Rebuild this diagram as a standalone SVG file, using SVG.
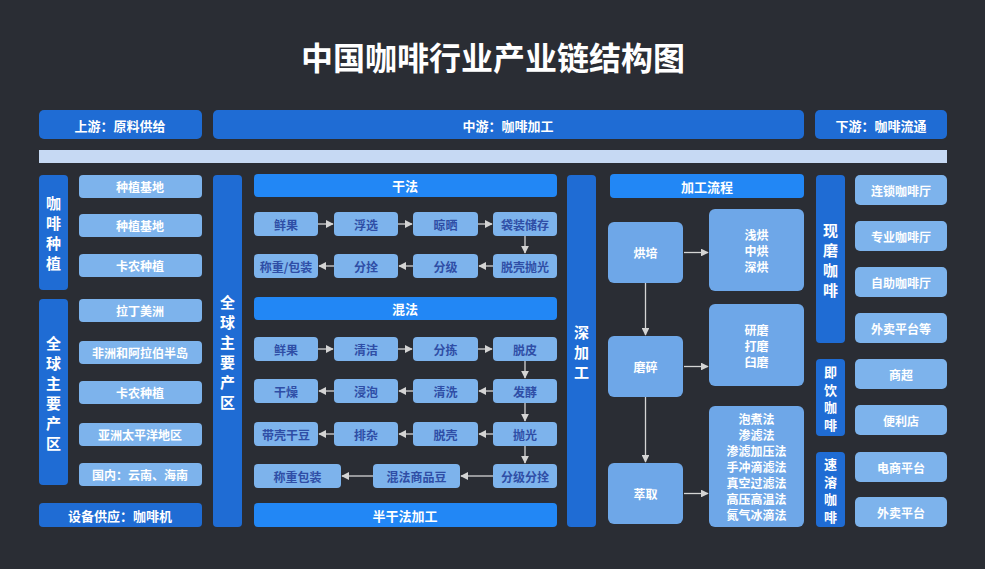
<svg xmlns="http://www.w3.org/2000/svg" width="985" height="569" viewBox="0 0 985 569">
<style>
text{font-family:"Noto Sans CJK SC","Noto Sans",sans-serif;text-anchor:middle;dominant-baseline:central}
.d{fill:#1f6cd4}.h{fill:#2287f5}.l{fill:#7db3ec}.m{fill:#6ea7e8}
.tw{fill:#fff;font-size:12px;font-weight:bold}
.tb{fill:#2f4ea6;font-size:12px;font-weight:bold}
.th{fill:#fff;font-size:13px;font-weight:bold}
.tv{fill:#fff;font-size:15px;font-weight:bold}
.ts{fill:#fff;font-size:13px;font-weight:bold}
.c line{stroke:#d4d4d4;stroke-width:1.3;marker-end:url(#a)}
</style>
<defs><marker id="a" viewBox="0 0 10 10" refX="9" refY="5" markerWidth="6" markerHeight="6" orient="auto"><path d="M0,0L10,5L0,10z" fill="#d4d4d4"/></marker></defs>
<rect width="985" height="569" fill="#2a2d34"/>
<text x="493" y="56" fill="#fff" style="font-size:32px;font-weight:bold">中国咖啡行业产业链结构图</text>
<g id="hdr">
<rect class="d" x="39" y="110" width="163" height="29" rx="5"/><text class="th" x="120" y="125">上游：原料供给</text>
<rect class="d" x="213" y="110" width="591" height="29" rx="5"/><text class="th" x="508" y="125">中游：咖啡加工</text>
<rect class="d" x="815" y="110" width="132" height="29" rx="5"/><text class="th" x="881" y="125">下游：咖啡流通</text>
<rect x="39" y="150" width="908" height="13" fill="#c6d9f3"/>
</g>
<g id="left">
<rect class="d" x="39" y="175" width="29" height="115" rx="4"/><text class="tv" x="53.5" y="232"><tspan x="53.5" dy="-30">咖</tspan><tspan x="53.5" dy="20">啡</tspan><tspan x="53.5" dy="20">种</tspan><tspan x="53.5" dy="20">植</tspan></text>
<rect class="d" x="39" y="299" width="29" height="186" rx="4"/><text class="tv" x="53.5" y="392"><tspan x="53.5" dy="-50">全</tspan><tspan x="53.5" dy="20">球</tspan><tspan x="53.5" dy="20">主</tspan><tspan x="53.5" dy="20">要</tspan><tspan x="53.5" dy="20">产</tspan><tspan x="53.5" dy="20">区</tspan></text>
<rect class="l" x="79" y="175" width="123" height="23" rx="4"/><text class="tw" x="140" y="186.5">种植基地</text>
<rect class="l" x="79" y="214" width="123" height="23" rx="4"/><text class="tw" x="140" y="225.5">种植基地</text>
<rect class="l" x="79" y="254" width="123" height="23" rx="4"/><text class="tw" x="140" y="265.5">卡农种植</text>
<rect class="l" x="79" y="299" width="123" height="23" rx="4"/><text class="tw" x="140" y="310.5">拉丁美洲</text>
<rect class="l" x="79" y="341" width="123" height="23" rx="4"/><text class="tw" x="140" y="352.5">非洲和阿拉伯半岛</text>
<rect class="l" x="79" y="381" width="123" height="23" rx="4"/><text class="tw" x="140" y="392.5">卡农种植</text>
<rect class="l" x="79" y="423" width="123" height="23" rx="4"/><text class="tw" x="140" y="434.5">亚洲太平洋地区</text>
<rect class="l" x="79" y="463" width="123" height="23" rx="4"/><text class="tw" x="140" y="474.5">国内：云南、海南</text>
<rect class="d" x="39" y="503" width="163" height="24" rx="4"/><text class="th" x="120" y="515">设备供应：咖啡机</text>
</g>
<g id="mid">
<rect class="d" x="213" y="175" width="29" height="352" rx="4"/><text class="tv" x="227.5" y="351"><tspan x="227.5" dy="-50">全</tspan><tspan x="227.5" dy="20">球</tspan><tspan x="227.5" dy="20">主</tspan><tspan x="227.5" dy="20">要</tspan><tspan x="227.5" dy="20">产</tspan><tspan x="227.5" dy="20">区</tspan></text>
<rect class="h" x="254" y="174" width="303" height="23" rx="4"/><text class="th" x="405" y="185.5">干法</text>
<rect class="l" x="254" y="212" width="64" height="24" rx="4"/><text class="tb" x="286" y="224">鲜果</text>
<rect class="l" x="334" y="212" width="64" height="24" rx="4"/><text class="tb" x="366" y="224">浮选</text>
<rect class="l" x="413" y="212" width="65" height="24" rx="4"/><text class="tb" x="445.5" y="224">晾晒</text>
<rect class="l" x="493" y="212" width="64" height="24" rx="4"/><text class="tb" x="525" y="224">袋装储存</text>
<rect class="l" x="254" y="254" width="64" height="24" rx="4"/><text class="tb" x="286" y="266">称重/包装</text>
<rect class="l" x="334" y="254" width="64" height="24" rx="4"/><text class="tb" x="366" y="266">分拴</text>
<rect class="l" x="413" y="254" width="65" height="24" rx="4"/><text class="tb" x="445.5" y="266">分级</text>
<rect class="l" x="493" y="254" width="64" height="24" rx="4"/><text class="tb" x="525" y="266">脱壳抛光</text>
<rect class="h" x="254" y="297" width="303" height="23" rx="4"/><text class="th" x="405" y="308.5">混法</text>
<rect class="l" x="254" y="337" width="64" height="24" rx="4"/><text class="tb" x="286" y="349">鲜果</text>
<rect class="l" x="334" y="337" width="64" height="24" rx="4"/><text class="tb" x="366" y="349">清洁</text>
<rect class="l" x="413" y="337" width="65" height="24" rx="4"/><text class="tb" x="445.5" y="349">分拣</text>
<rect class="l" x="493" y="337" width="64" height="24" rx="4"/><text class="tb" x="525" y="349">脱皮</text>
<rect class="l" x="254" y="379" width="64" height="24" rx="4"/><text class="tb" x="286" y="391">干燥</text>
<rect class="l" x="334" y="379" width="64" height="24" rx="4"/><text class="tb" x="366" y="391">浸泡</text>
<rect class="l" x="413" y="379" width="65" height="24" rx="4"/><text class="tb" x="445.5" y="391">清洗</text>
<rect class="l" x="493" y="379" width="64" height="24" rx="4"/><text class="tb" x="525" y="391">发酵</text>
<rect class="l" x="254" y="422" width="64" height="24" rx="4"/><text class="tb" x="286" y="434">带壳干豆</text>
<rect class="l" x="334" y="422" width="64" height="24" rx="4"/><text class="tb" x="366" y="434">排杂</text>
<rect class="l" x="413" y="422" width="65" height="24" rx="4"/><text class="tb" x="445.5" y="434">脱壳</text>
<rect class="l" x="493" y="422" width="64" height="24" rx="4"/><text class="tb" x="525" y="434">抛光</text>
<rect class="l" x="254" y="464" width="87" height="24" rx="4"/><text class="tb" x="297.5" y="476">称重包装</text>
<rect class="l" x="373" y="464" width="87" height="24" rx="4"/><text class="tb" x="416.5" y="476">混法商品豆</text>
<rect class="l" x="493" y="464" width="64" height="24" rx="4"/><text class="tb" x="525" y="476">分级分拴</text>
<rect class="h" x="254" y="503" width="303" height="24" rx="4"/><text class="th" x="405" y="515">半干法加工</text>
</g>
<g id="deep">
<rect class="d" x="567" y="175" width="29" height="352" rx="4"/><text class="tv" x="581.5" y="351"><tspan x="581.5" dy="-20">深</tspan><tspan x="581.5" dy="20">加</tspan><tspan x="581.5" dy="20">工</tspan></text>
<rect class="h" x="610" y="174" width="194" height="24" rx="4"/><text class="th" x="707" y="186">加工流程</text>
<rect class="m" x="608" y="222" width="75" height="61" rx="6"/><text class="tw" x="645.5" y="252.5">烘培</text>
<rect class="m" x="608" y="336" width="75" height="61" rx="6"/><text class="tw" x="645.5" y="366.5">磨碎</text>
<rect class="m" x="608" y="463" width="75" height="61" rx="6"/><text class="tw" x="645.5" y="493.5">萃取</text>
<rect class="m" x="709" y="209" width="95" height="82" rx="6"/><text class="tw" x="756.5" y="234"><tspan x="756.5">浅烘</tspan><tspan x="756.5" dy="16">中烘</tspan><tspan x="756.5" dy="16">深烘</tspan></text>
<rect class="m" x="709" y="304" width="95" height="82" rx="6"/><text class="tw" x="756.5" y="329"><tspan x="756.5">研磨</tspan><tspan x="756.5" dy="16">打磨</tspan><tspan x="756.5" dy="16">臼磨</tspan></text>
<rect class="m" x="709" y="406" width="95" height="121" rx="6"/><text class="tw" x="756.5" y="418"><tspan x="756.5">泡煮法</tspan><tspan x="756.5" dy="16">渗滤法</tspan><tspan x="756.5" dy="16">渗滤加压法</tspan><tspan x="756.5" dy="16">手冲滴滤法</tspan><tspan x="756.5" dy="16">真空过滤法</tspan><tspan x="756.5" dy="16">高压高温法</tspan><tspan x="756.5" dy="16">氮气冰滴法</tspan></text>
</g>
<g id="right">
<rect class="d" x="816" y="175" width="29" height="168" rx="4"/><text class="tv" x="830.5" y="259"><tspan x="830.5" dy="-30">现</tspan><tspan x="830.5" dy="20">磨</tspan><tspan x="830.5" dy="20">咖</tspan><tspan x="830.5" dy="20">啡</tspan></text>
<rect class="d" x="816" y="359" width="29" height="77" rx="4"/><text class="ts" x="830.5" y="397.5"><tspan x="830.5" dy="-26.25">即</tspan><tspan x="830.5" dy="17.5">饮</tspan><tspan x="830.5" dy="17.5">咖</tspan><tspan x="830.5" dy="17.5">啡</tspan></text>
<rect class="d" x="816" y="452" width="29" height="75" rx="4"/><text class="ts" x="830.5" y="489.5"><tspan x="830.5" dy="-26.25">速</tspan><tspan x="830.5" dy="17.5">溶</tspan><tspan x="830.5" dy="17.5">咖</tspan><tspan x="830.5" dy="17.5">啡</tspan></text>
<rect class="l" x="855" y="175" width="92" height="30" rx="5"/><text class="tw" x="901" y="190">连锁咖啡厅</text>
<rect class="l" x="855" y="221" width="92" height="30" rx="5"/><text class="tw" x="901" y="236">专业咖啡厅</text>
<rect class="l" x="855" y="267" width="92" height="30" rx="5"/><text class="tw" x="901" y="282">自助咖啡厅</text>
<rect class="l" x="855" y="313" width="92" height="30" rx="5"/><text class="tw" x="901" y="328">外卖平台等</text>
<rect class="l" x="855" y="359" width="92" height="30" rx="5"/><text class="tw" x="901" y="374">商超</text>
<rect class="l" x="855" y="405" width="92" height="30" rx="5"/><text class="tw" x="901" y="420">便利店</text>
<rect class="l" x="855" y="452" width="92" height="30" rx="5"/><text class="tw" x="901" y="467">电商平台</text>
<rect class="l" x="855" y="497" width="92" height="30" rx="5"/><text class="tw" x="901" y="512">外卖平台</text>
</g>
<g class="c" id="connectors">
<line x1="318" y1="224" x2="333" y2="224"/><line x1="398" y1="224" x2="412" y2="224"/><line x1="478" y1="224" x2="492" y2="224"/>
<line x1="525" y1="236" x2="525" y2="253"/>
<line x1="493" y1="266" x2="479" y2="266"/><line x1="413" y1="266" x2="399" y2="266"/><line x1="334" y1="266" x2="319" y2="266"/>
<line x1="318" y1="349" x2="333" y2="349"/><line x1="398" y1="349" x2="412" y2="349"/><line x1="478" y1="349" x2="492" y2="349"/>
<line x1="525" y1="361" x2="525" y2="378"/>
<line x1="493" y1="391" x2="479" y2="391"/><line x1="413" y1="391" x2="399" y2="391"/><line x1="334" y1="391" x2="319" y2="391"/>
<line x1="525" y1="403" x2="525" y2="421"/>
<line x1="493" y1="434" x2="479" y2="434"/><line x1="413" y1="434" x2="399" y2="434"/><line x1="334" y1="434" x2="319" y2="434"/>
<line x1="525" y1="446" x2="525" y2="463"/>
<line x1="493" y1="476" x2="461" y2="476"/><line x1="373" y1="476" x2="342" y2="476"/>
<line x1="645.5" y1="283" x2="645.5" y2="335"/><line x1="645.5" y1="397" x2="645.5" y2="462"/>
<line x1="684" y1="252.5" x2="708" y2="252.5"/><line x1="684" y1="366.5" x2="708" y2="366.5"/><line x1="684" y1="493.5" x2="708" y2="493.5"/>
</g>
</svg>
